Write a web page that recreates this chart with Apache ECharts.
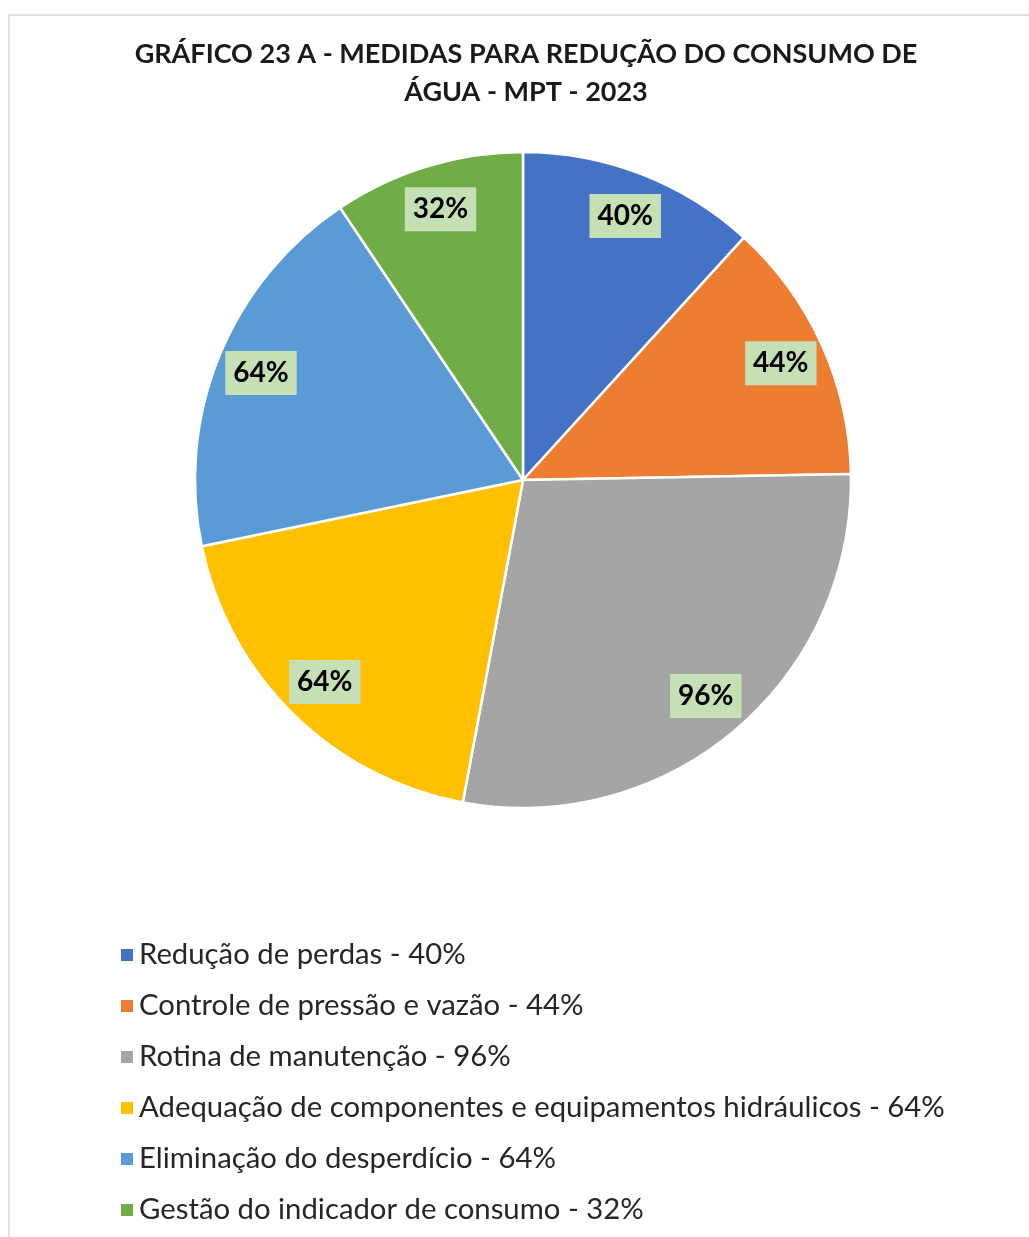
<!DOCTYPE html>
<html>
<head>
<meta charset="utf-8">
<script src="https://cdn.jsdelivr.net/npm/echarts@6/dist/echarts.min.js"></script>
<style>
  html, body { margin: 0; padding: 0; background: #fff; }
  #chart { width: 1029px; height: 1237px; }
</style>
</head>
<body>
<div id="chart"></div>
<script>
// dados do gráfico
const categorias = [
  "Redução de perdas",
  "Controle de pressão e vazão",
  "Rotina de manutenção",
  "Adequação de componentes e equipamentos hidráulicos",
  "Eliminação do desperdício",
  "Gestão do indicador de consumo"
];
const valores = [40, 44, 96, 64, 64, 32];
const cores = ["#4472C4", "#ED7D31", "#A5A5A5", "#FFC000", "#5B9BD5", "#70AD47"];

const fonte = "Lato, 'Open Sans', sans-serif";

const dados = categorias.map((c, i) => ({
  name: c,
  value: valores[i],
  itemStyle: { color: cores[i] }
}));

const myChart = echarts.init(document.getElementById("chart"));
const option = {
  backgroundColor: "#fff",
  graphic: [
    {
      type: "rect",
      shape: { x: 9, y: 15, width: 1040, height: 1250 },
      style: { fill: "none", stroke: "#d9d9d9", lineWidth: 1.5 },
      silent: true
    }
  ],
  title: {
    text: "GRÁFICO 23 A - MEDIDAS PARA REDUÇÃO DO CONSUMO DE\nÁGUA - MPT - 2023",
    left: 521,
    textAlign: "center",
    top: 30,
    textStyle: {
      fontFamily: fonte,
      fontWeight: "bold",
      fontSize: 27,
      lineHeight: 38,
      color: "#1a1a1a"
    }
  },
  legend: {
    orient: "vertical",
    left: 114,
    top: 935,
    icon: "rect",
    itemWidth: 14,
    itemHeight: 14,
    itemGap: 21,
    data: categorias,
    formatter: function (name) {
      const i = categorias.indexOf(name);
      return name + " - " + valores[i] + "%";
    },
    textStyle: {
      fontFamily: fonte,
      fontSize: 29.3,
      lineHeight: 30,
      color: "#262626"
    }
  },
  series: [
    {
      type: "pie",
      center: [523, 480],
      radius: [0, 328],
      startAngle: 90,
      clockwise: true,
      silent: true,
      label: { show: false },
      labelLine: { show: false },
      itemStyle: { borderColor: "#fff", borderWidth: 2.5 },
      data: dados
    },
    {
      // série só para posicionar os rótulos
      type: "pie",
      center: [523, 480],
      radius: [232, 328],
      startAngle: 90,
      clockwise: true,
      silent: true,
      itemStyle: { color: "rgba(0,0,0,0)", borderWidth: 0 },
      label: {
        show: true,
        position: "inside",
        formatter: "{c}%",
        fontFamily: fonte,
        fontWeight: "bold",
        fontSize: 28,
        lineHeight: 28,
        color: "#000",
        backgroundColor: "#C5E0B4",
        padding: [9, 8, 7, 8]
      },
      labelLine: { show: false },
      data: valores.map((v, i) => ({ name: categorias[i], value: v }))
    }
  ]
};
myChart.setOption(option);
</script>
</body>
</html>
